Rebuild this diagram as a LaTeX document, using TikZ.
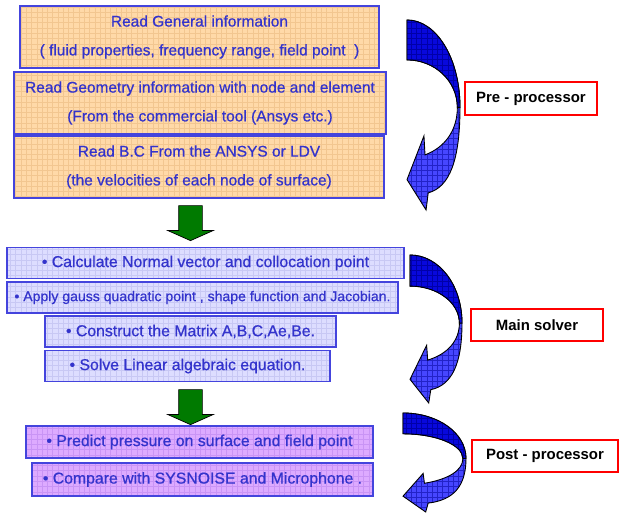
\documentclass[tikz,border=0pt]{standalone}
\usepackage{fontspec}
\setmainfont{Liberation Sans}
\newfontfamily\cardfont[FakeBold=0.7]{Liberation Sans}
\usetikzlibrary{patterns,shapes.arrows}
\definecolor{boxline}{HTML}{4444DD}
\definecolor{boxtext}{HTML}{3333CC}
\definecolor{peach}{HTML}{FFD9A8}
\definecolor{peachgrid}{HTML}{F2C690}
\definecolor{lavender}{HTML}{DDDDFF}
\definecolor{lavendergrid}{HTML}{C8C8F4}
\definecolor{lilac}{HTML}{DDAAFF}
\definecolor{lilacgrid}{HTML}{C994F5}
\definecolor{deepblue}{HTML}{0808DC}
\definecolor{deepgrid}{HTML}{0000A8}
\definecolor{midblue}{HTML}{4646FF}
\definecolor{midgrid}{HTML}{2222C8}
\definecolor{leafgreen}{HTML}{007A00}

% curved stage arrow: x, y of top left corner, width, height (pixels)
\newcommand{\bendarrow}[4]{%
  \begin{scope}[shift={(#1,#2)},xscale=#3,yscale=#4]
    \path[bendlow] (0,0) .. controls (0.55,0) and (1,0.2) .. (1,0.46)
      .. controls (1,0.74) and (0.8,0.88) .. (0.40,0.91)
      -- (0.36,1) -- (0,0.84) -- (0.32,0.61) -- (0.34,0.71)
      .. controls (0.72,0.67) and (0.95,0.58) .. (0.95,0.46)
      .. controls (0.95,0.32) and (0.52,0.21) .. (0,0.21) -- cycle;
    \path[bendtop] (0,0) .. controls (0.55,0) and (1,0.2) .. (1,0.46)
      -- (0.95,0.46) .. controls (0.95,0.32) and (0.52,0.21) .. (0,0.21) -- cycle;
  \end{scope}}

\begin{document}
\begin{tikzpicture}[x=0.02cm,y=-0.02cm,
    stepcard/.style 2 args={
      draw=boxline,
      line width=1.1pt,
      preaction={fill=#1},
      pattern=grid,
      pattern color=#2,
      text=boxtext,
      inner sep=0pt,
      align=center
    },
    prebox/.style={stepcard={peach}{peachgrid},minimum height=1.24cm,
      font=\cardfont\fontsize{8.8}{16.4}\selectfont},
    solvebox/.style={stepcard={lavender}{lavendergrid},minimum height=0.62cm,
      font=\cardfont\fontsize{9}{11}\selectfont},
    postbox/.style={stepcard={lilac}{lilacgrid},minimum height=0.65cm,
      font=\cardfont\fontsize{9}{11}\selectfont},
    stagelabel/.style={
      draw=red,
      line width=1.2pt,
      fill=white,
      minimum width=2.64cm,
      minimum height=0.65cm,
      font=\fontsize{8.5}{10}\selectfont\bfseries
    },
    downarrow/.style={
      single arrow,
      draw=black,
      fill=leafgreen,
      rotate=-90,
      inner xsep=0pt,
      inner ysep=0.23cm,
      minimum height=0.7cm,
      single arrow head extend=0.22cm,
      single arrow tip angle=132
    },
    bendtop/.style={draw=black,line width=0.5pt,preaction={fill=deepblue},
      pattern=grid,pattern color=deepgrid},
    bendlow/.style={draw=black,line width=0.5pt,preaction={fill=midblue},
      pattern=grid,pattern color=midgrid}
  ]
  \useasboundingbox (0,0) rectangle (625,513);

  % pre-processor
  \node[prebox,minimum width=7.18cm] (general) at (199.5,37)
    {Read General information\\( fluid properties, frequency range, field point~~)};
  \node[prebox,minimum width=7.44cm] (geometry) at (200,103)
    {Read Geometry information with node and element\\(From the commercial tool (Ansys etc.)};
  \node[prebox,minimum width=7.40cm] (boundary) at (199,167)
    {Read B.C From the ANSYS or LDV\\(the velocities of each node of surface)};
  \node[downarrow] (togo1) at (190.5,220.5) {};

  % main solver
  \node[solvebox,minimum width=7.94cm] (normal) at (205.5,263)
    {• Calculate Normal vector and collocation point};
  \node[solvebox,minimum width=7.82cm,font=\cardfont\fontsize{8}{10}\selectfont] (gauss) at (202.5,297.5)
    {• Apply gauss quadratic point , shape function and Jacobian.};
  \node[solvebox,minimum width=5.82cm] (matrix) at (190.5,331.5)
    {• Construct the Matrix A,B,C,Ae,Be.};
  \node[solvebox,minimum width=5.70cm] (linear) at (187.5,366)
    {• Solve Linear algebraic equation.};
  \node[downarrow] (togo2) at (190.5,404.5) {};

  % post-processor
  \node[postbox,minimum width=6.94cm] (pressure) at (199.5,442)
    {• Predict pressure on surface and field point};
  \node[postbox,minimum width=6.82cm] (compare) at (202.5,479.5)
    {• Compare with SYSNOISE and Microphone .};

  % stage arrows and labels
  \bendarrow{407}{20}{53}{190}
  \bendarrow{410}{255}{52}{148}
  \bendarrow{403}{413}{63}{99}
  \node[stagelabel] (pre) at (531,98.5) {Pre - processor};
  \node[stagelabel] (solver) at (537,325) {Main solver};
  \node[stagelabel,minimum width=2.92cm] (post) at (545,456) {Post - processor};
\end{tikzpicture}
\end{document}
